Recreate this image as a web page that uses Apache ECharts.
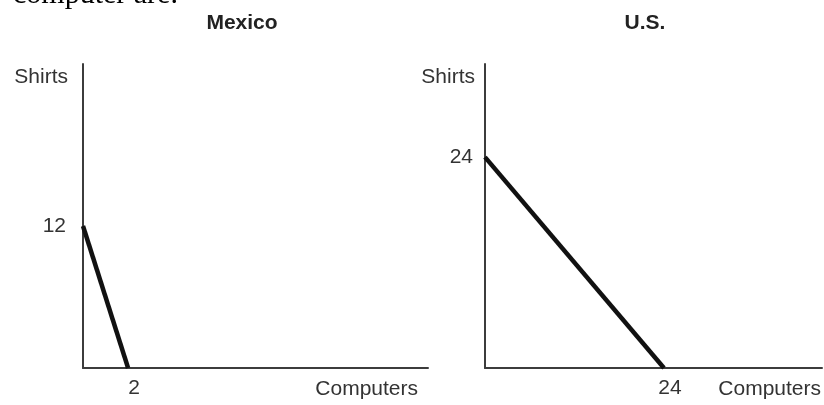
<!DOCTYPE html>
<html>
<head>
<meta charset="utf-8">
<script src="https://cdn.jsdelivr.net/npm/echarts@6/dist/echarts.min.js"></script>
<style>html,body{margin:0;padding:0;background:#fff}#c{width:824px;height:405px}</style>
</head>
<body>
<div id="c"></div>
<script>
// Data
const panelTitles = ['Mexico', 'U.S.'];
const xAxisName = 'Computers';
const yAxisName = 'Shirts';
const mexicoPPF = [[0, 12], [2, 0]];   // [computers, shirts]
const usPPF = [[0, 24], [24, 0]];
const mexicoXTicks = [2];
const mexicoYTicks = [12];
const usXTicks = [24];
const usYTicks = [24];
const topFragment = 'computer are.';

const FONT = '"Liberation Sans", Arial, sans-serif';
const axisColor = '#3c3c3c';
const textColor = '#333';

function xAxis(gridIndex, max, ticks, nameGap) {
  return {
    type: 'value', gridIndex, min: 0, max,
    name: xAxisName, nameLocation: 'end', nameGap,
    nameTextStyle: { fontFamily: FONT, fontSize: 21, color: textColor, align: 'right', verticalAlign: 'top', padding: [11, 0, 0, 0] },
    axisLine: { show: true, onZero: false, lineStyle: { color: axisColor, width: 2 } },
    axisTick: { show: false },
    splitLine: { show: false },
    axisLabel: { customValues: ticks, fontFamily: FONT, fontSize: 21, color: textColor, margin: 10, padding: [0, 0, 0, 12] }
  };
}
function yAxis(gridIndex, max, ticks, labelPad, namePadRight, labelMargin) {
  return {
    type: 'value', gridIndex, min: 0, max,
    name: yAxisName, nameLocation: 'end', nameGap: -13,
    nameTextStyle: { fontFamily: FONT, fontSize: 21, color: textColor, align: 'right', verticalAlign: 'middle', padding: [0, namePadRight, 0, 0] },
    axisLine: { show: true, onZero: false, lineStyle: { color: axisColor, width: 2 } },
    axisTick: { show: false },
    splitLine: { show: false },
    axisLabel: { customValues: ticks, fontFamily: FONT, fontSize: 21, color: textColor, margin: labelMargin, padding: [0, 0, labelPad, 0] }
  };
}

const chart = echarts.init(document.getElementById('c'), null, { renderer: 'canvas' });
chart.setOption({
  animation: false,
  backgroundColor: '#fff',
  grid: [
    { left: 83, top: 64, width: 345, height: 304 },
    { left: 485, top: 64, width: 339, height: 304 }
  ],
  xAxis: [
    xAxis(0, 15.3, mexicoXTicks, -10),
    xAxis(1, 45.2, usXTicks, -1)
  ],
  yAxis: [
    yAxis(0, 25.7, mexicoYTicks, 6, 15, 17),
    yAxis(1, 34.6, usYTicks, 10, 10, 12)
  ],
  graphic: [
    { type: 'text', x: 242, y: 23, style: { text: panelTitles[0], font: 'bold 21px ' + FONT, fill: '#222', align: 'center', verticalAlign: 'middle' } },
    { type: 'text', x: 645, y: 23, style: { text: panelTitles[1], font: 'bold 21px ' + FONT, fill: '#222', align: 'center', verticalAlign: 'middle' } },
    { type: 'text', x: 13, y: -5, style: { text: topFragment, font: '30px "Liberation Serif", "Times New Roman", serif', fill: '#000', align: 'left', verticalAlign: 'middle' } }
  ],
  series: [
    { type: 'line', xAxisIndex: 0, yAxisIndex: 0, data: mexicoPPF, symbol: 'none', lineStyle: { color: '#111', width: 4.5 } },
    { type: 'line', xAxisIndex: 1, yAxisIndex: 1, data: usPPF, symbol: 'none', lineStyle: { color: '#111', width: 4.5 } }
  ]
});
</script>
</body>
</html>
